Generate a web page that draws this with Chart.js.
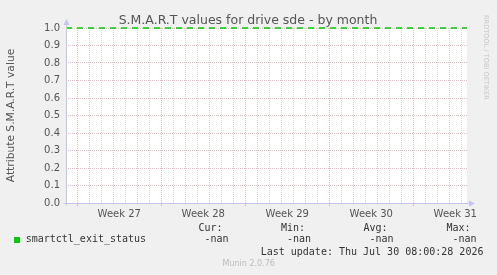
<!DOCTYPE html>
<html>
<head>
<meta charset="utf-8">
<script src="https://cdn.jsdelivr.net/npm/chart.js@4.4.0/dist/chart.umd.min.js"></script>
<style>
  body { margin: 0; background: #f0f0f0; }
  #wrap { position: relative; width: 497px; height: 275px; overflow: hidden; font-family: "DejaVu Sans", sans-serif; }
  #wrap canvas { position: absolute; left: 0; top: 0; }
  .t { position: absolute; white-space: pre; line-height: 1; }
  .mono { font-family: "DejaVu Sans Mono", monospace; font-size: 10px; color: #333; }
  #title { left: 0; width: 496px; text-align: center; top: 13.5px; font-size: 12.5px; color: #555; }
  #vendor { left: 489px; top: 15px; font-size: 6.6px; color: #c8c8c8; transform-origin: 0 0; transform: rotate(90deg); }
  #version { left: 222.5px; top: 260px; font-size: 8px; color: #bbb; }
  #swatch { position: absolute; left: 14px; top: 237px; width: 6px; height: 6px; background: #00cc00; }
</style>
</head>
<body>
<div id="wrap">
  <canvas id="chart" width="497" height="275"></canvas>
  <div class="t" id="title">S.M.A.R.T values for drive sde - by month</div>
  <div class="t" id="vendor">RRDTOOL / TOBI OETIKER</div>
  <div class="t" id="version">Munin 2.0.76</div>
  <div id="swatch"></div>
</div>
<script>
// month view, x in days from the left edge of the plot
const viewDays = [0, 33.42];
const weekStarts = [0.94, 7.94, 14.94, 21.94, 28.94];
const weekLabels = ['Week 27', 'Week 28', 'Week 29', 'Week 30', 'Week 31'];
const yTicks = [0.0, 0.1, 0.2, 0.3, 0.4, 0.5, 0.6, 0.7, 0.8, 0.9, 1.0];
const limitLine = [1.0, 1.0];

const seriesName = 'smartctl_exit_status';
const legendHeads = ['Cur:', 'Min:', 'Avg:', 'Max:'];
const legendValues = ['-nan', '-nan', '-nan', '-nan'];
const lastUpdate = 'Last update: Thu Jul 30 08:00:28 2026';

const axisColor = '#c4c4f0';
const majorGrid = '#ebb9b9';
const minorGrid = '#d4d4d4';
const textColor = '#555';

// legend text under the chart
const wrap = document.getElementById('wrap');
function addText(txt, left, top, cls) {
  const d = document.createElement('div');
  d.className = 't ' + cls;
  d.textContent = txt;
  d.style.left = left + 'px';
  d.style.top = top + 'px';
  wrap.appendChild(d);
}
addText(seriesName, 25.7, 234, 'mono');
const headX = [198.5, 281, 363.5, 446.5];
legendHeads.forEach((h, i) => {
  addText(h, headX[i], 222.8, 'mono');
  addText(legendValues[i], headX[i] + 6, 234, 'mono');
});
addText(lastUpdate, 260.7, 246.5, 'mono');

const plotBackground = {
  id: 'plotBackground',
  beforeDraw(chart) {
    const { ctx, chartArea: a } = chart;
    ctx.save();
    ctx.fillStyle = '#fff';
    ctx.fillRect(a.left, a.top, a.right - a.left, a.bottom - a.top);
    ctx.restore();
  },
};

const axisArrows = {
  id: 'axisArrows',
  afterDraw(chart) {
    const { ctx, chartArea: a } = chart;
    const x0 = Math.round(a.left) + 0.5;
    const y0 = Math.round(a.bottom) + 0.5;
    ctx.save();
    ctx.strokeStyle = axisColor;
    ctx.fillStyle = axisColor;
    ctx.lineWidth = 1;
    ctx.beginPath();
    ctx.moveTo(x0, y0 + 2);
    ctx.lineTo(x0, a.top - 4);
    ctx.moveTo(x0 - 3, y0);
    ctx.lineTo(a.right + 3, y0);
    ctx.stroke();
    ctx.beginPath();
    ctx.moveTo(x0, a.top - 9);
    ctx.lineTo(x0 - 3, a.top - 3);
    ctx.lineTo(x0 + 3, a.top - 3);
    ctx.closePath();
    ctx.fill();
    ctx.beginPath();
    ctx.moveTo(a.right + 8, y0);
    ctx.lineTo(a.right + 2, y0 - 3);
    ctx.lineTo(a.right + 2, y0 + 3);
    ctx.closePath();
    ctx.fill();
    ctx.restore();
  },
};

function buildXTicks(scale) {
  const ticks = [];
  for (let k = 0; weekStarts[0] + k <= viewDays[1]; k++) {
    ticks.push({ value: weekStarts[0] + k, kind: k % 7 === 0 ? 'week' : 'day' });
  }
  weekStarts.forEach((w, i) => {
    ticks.push({ value: w + 3.5, kind: 'label', text: weekLabels[i] });
  });
  ticks.sort((p, q) => p.value - q.value);
  scale.ticks = ticks;
}

new Chart(document.getElementById('chart'), {
  type: 'line',
  data: {
    datasets: [{
      label: seriesName,
      data: viewDays.map((d, i) => ({ x: d, y: limitLine[i] })),
      borderColor: '#00cc00',
      borderWidth: 1.6,
      borderDash: [6, 5],
      pointRadius: 0,
      fill: false,
      clip: false,
    }],
  },
  options: {
    responsive: false,
    animation: false,
    events: [],
    layout: { padding: { top: 28, right: 30, bottom: 0, left: 0 } },
    plugins: { legend: { display: false }, tooltip: { enabled: false } },
    scales: {
      x: {
        type: 'linear',
        min: viewDays[0],
        max: viewDays[1],
        afterBuildTicks: buildXTicks,
        afterFit: (s) => { s.height = 72; },
        border: { display: false, dash: [1, 1] },
        grid: {
          color: (c) => c.tick.kind === 'week' ? majorGrid : c.tick.kind === 'day' ? minorGrid : 'rgba(0,0,0,0)',
          tickColor: (c) => c.tick.kind === 'week' ? majorGrid : 'rgba(0,0,0,0)',
          tickLength: 3,
          lineWidth: 1,
        },
        ticks: {
          autoSkip: false,
          maxRotation: 0,
          minRotation: 0,
          padding: 2,
          color: textColor,
          font: { family: 'DejaVu Sans', size: 10 },
          callback: (v, i, ticks) => ticks[i].kind === 'label' ? ticks[i].text : '',
        },
      },
      y: {
        min: 0,
        max: 1,
        afterBuildTicks: (s) => { s.ticks = yTicks.map((v) => ({ value: v })); },
        afterFit: (s) => { s.width = 66; },
        border: { display: false, dash: [1, 1] },
        grid: { color: majorGrid, drawTicks: false, lineWidth: 1 },
        ticks: {
          padding: 6,
          color: textColor,
          font: { family: 'DejaVu Sans', size: 10 },
          callback: (v) => v.toFixed(1),
        },
        title: {
          display: true,
          text: 'Attribute S.M.A.R.T value',
          color: textColor,
          font: { family: 'DejaVu Sans', size: 10.7, lineHeight: 1.2 },
          padding: { top: 4.5, bottom: 0 },
        },
      },
    },
  },
  plugins: [plotBackground, axisArrows],
});
</script>
</body>
</html>
